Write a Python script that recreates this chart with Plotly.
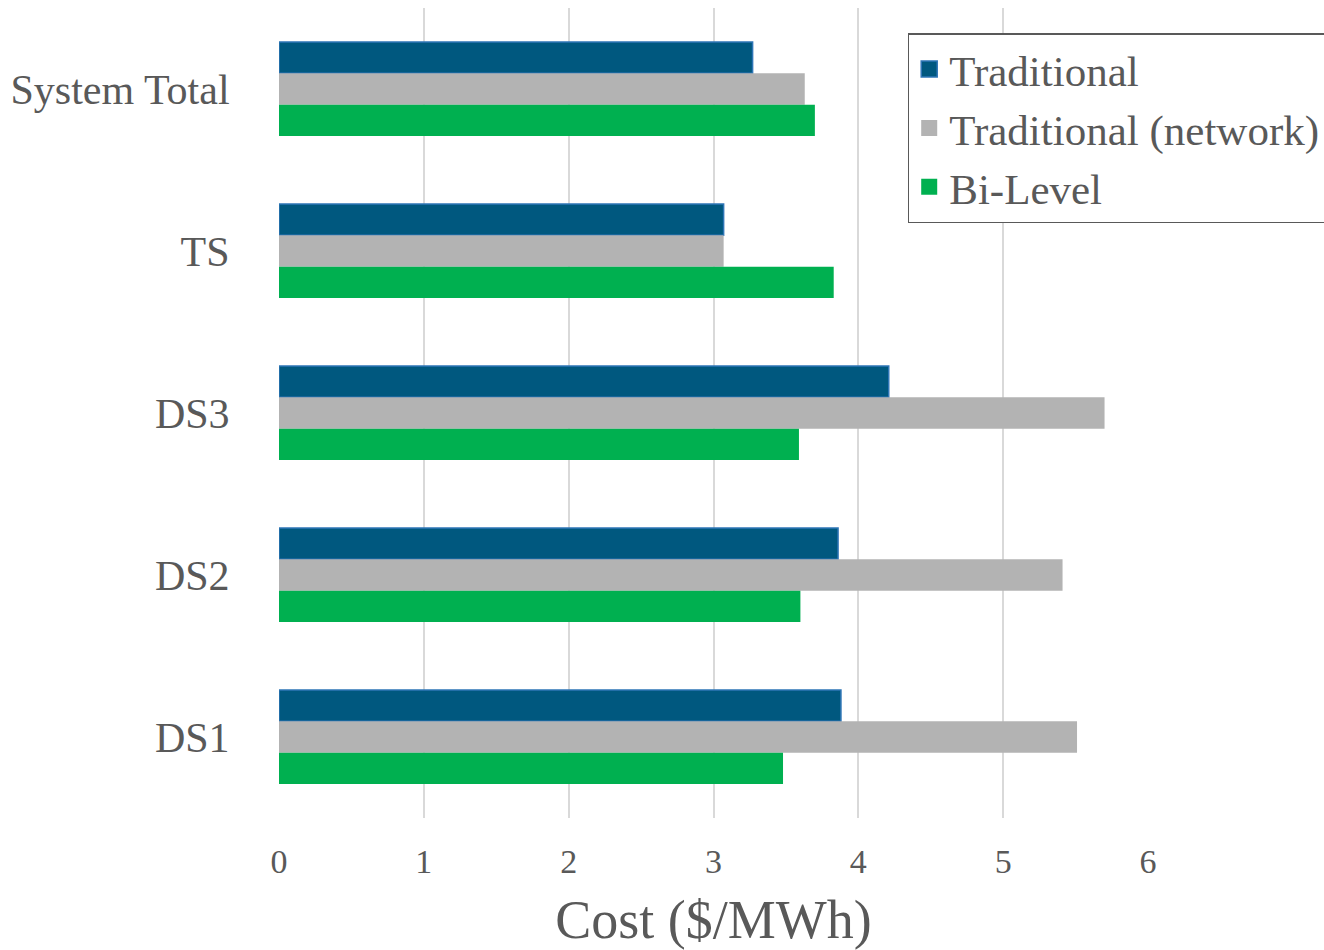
import plotly.graph_objects as go

categories = ["System Total", "TS", "DS3", "DS2", "DS1"]
traditional = [3.27, 3.07, 4.21, 3.86, 3.88]
traditional_network = [3.63, 3.07, 5.70, 5.41, 5.51]
bi_level = [3.70, 3.83, 3.59, 3.60, 3.48]
x_ticks = [0, 1, 2, 3, 4, 5, 6]

series = [
    ("Traditional", traditional, "#00587F", "#2E75B6"),
    ("Traditional (network)", traditional_network, "#B3B3B3", "#B3B3B3"),
    ("Bi-Level", bi_level, "#00B050", "#00B050"),
]

font_family = "Liberation Serif, Times New Roman, serif"
text_color = "#595959"

fig = go.Figure()
for name, vals, fill, line in series:
    fig.add_trace(go.Bar(
        y=categories, x=vals, orientation="h", name=name,
        marker=dict(color=fill, line=dict(color=line, width=1.5 if name == "Traditional" else 0)),
        showlegend=False,
    ))
for name, vals, fill, line in series:
    fig.add_trace(go.Scatter(
        x=[None], y=[None], mode="markers", name=name,
        marker=dict(symbol="square", size=22, color=fill,
                    line=dict(color=line, width=1.5 if name == "Traditional" else 0)),
        showlegend=True,
    ))

fig.update_layout(
    width=1324, height=950,
    margin=dict(l=279, r=176, t=8, b=132, autoexpand=False),
    paper_bgcolor="white", plot_bgcolor="white",
    barmode="group", bargap=0.42, bargroupgap=0,
    font=dict(family=font_family, color=text_color),
    legend=dict(
        x=1.2045, xanchor="right", y=0.969, yanchor="top",
        bgcolor="white", bordercolor="#595959", borderwidth=1.5,
        font=dict(size=43, family=font_family, color=text_color),
        traceorder="normal", tracegroupgap=0,
    ),
    xaxis=dict(
        range=[0, 6.0], tickvals=x_ticks, ticktext=[str(t) for t in x_ticks],
        showgrid=True, gridcolor="#D9D9D9", gridwidth=1.5,
        zeroline=False, showline=False,
        ticks="outside", ticklen=13, tickcolor="rgba(0,0,0,0)",
        tickfont=dict(size=34, family=font_family, color=text_color),
        title=dict(text="Cost ($/MWh)", font=dict(size=54, family=font_family, color=text_color), standoff=38),
    ),
    yaxis=dict(
        categoryorder="array", categoryarray=categories, autorange="reversed",
        showgrid=False, zeroline=False, showline=False,
        ticks="outside", ticklen=40, tickcolor="rgba(0,0,0,0)",
        tickfont=dict(size=42, family=font_family, color=text_color),
    ),
)

fig.write_html("out.html")
